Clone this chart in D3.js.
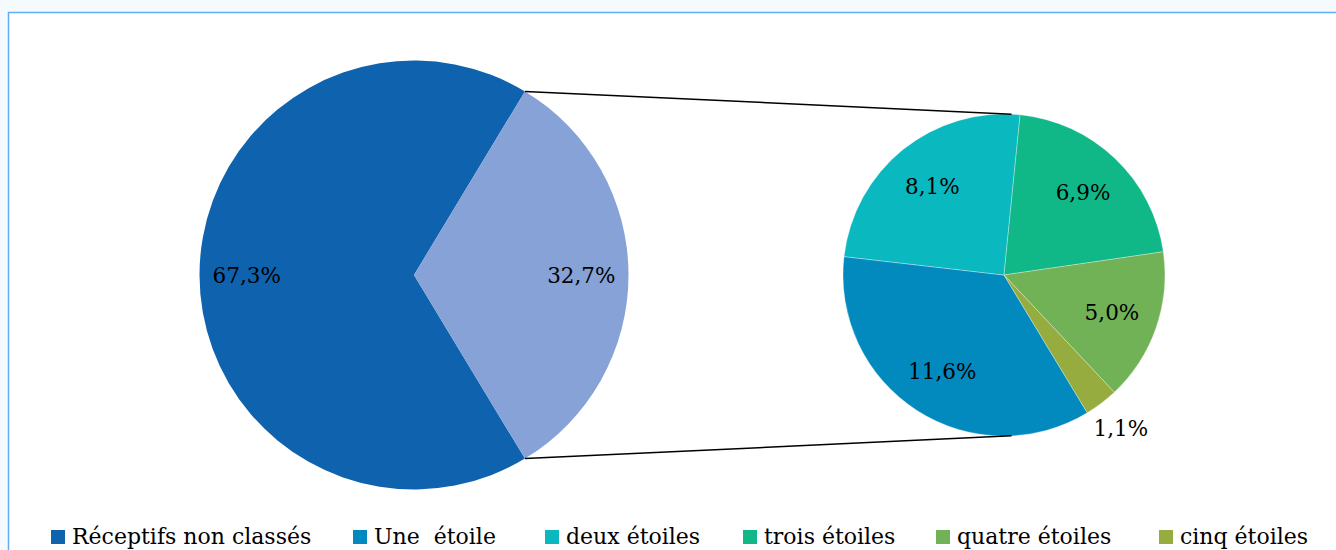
<!DOCTYPE html>
<html>
<head>
<meta charset="utf-8">
<script src="https://cdn.jsdelivr.net/npm/d3@7"></script>
<style>
  html, body { margin: 0; padding: 0; background: #f5faff; }
  svg { display: block; }
  text { font-family: "DejaVu Serif", "Liberation Serif", serif; fill: #000; }
</style>
</head>
<body>
<svg id="chart" width="1336" height="550"></svg>
<script>
// parts du graphique principal (%)
var mainCategories = ["Réceptifs non classés", "Classés"];
var mainValues = [67.3, 32.7];
var mainColors = ["#0e62ae", "#86a2d6"];

// détail des hébergements classés (%)
var subCategories = ["Une  étoile", "deux étoiles", "trois étoiles", "quatre étoiles", "cinq étoiles"];
var subValues = [11.6, 8.1, 6.9, 5.0, 1.1];
var subColors = ["#028abf", "#0ab8c0", "#10b888", "#70b255", "#96ac3e"];

var legendLabels = ["Réceptifs non classés"].concat(subCategories);
var legendColors = [mainColors[0]].concat(subColors);

var width = 1336, height = 550;
var svg = d3.select("#chart");

// cadre
svg.append("rect")
  .attr("x", 8.5).attr("y", 12.5)
  .attr("width", 1400).attr("height", 600)
  .attr("fill", "#fff")
  .attr("stroke", "#5eaef5")
  .attr("stroke-width", 1.5);

var fmt = function(v) { return d3.format(".1f")(v).replace(".", ",") + "%"; };

var mainCx = 414, mainCy = 275, mainR = 214.5;
var subCx = 1004, subCy = 275, subR = 161;

var mainTotal = d3.sum(mainValues);
// la part "classés" est centrée sur l'axe horizontal, côté droit
var startA = Math.PI / 2 + Math.PI * mainValues[1] / mainTotal;

var mainPie = d3.pie().sort(null).startAngle(startA).endAngle(startA + 2 * Math.PI);
var mainArcs = mainPie(mainValues);
var mainArc = d3.arc().innerRadius(0).outerRadius(mainR);
var mainLabelArc = d3.arc().innerRadius(mainR * 0.78).outerRadius(mainR * 0.78);

var gMain = svg.append("g").attr("transform", "translate(" + mainCx + "," + mainCy + ")");
gMain.selectAll("path").data(mainArcs).enter().append("path")
  .attr("d", mainArc)
  .attr("fill", function(d, i) { return mainColors[i]; });

gMain.selectAll("text").data(mainArcs).enter().append("text")
  .attr("transform", function(d) { return "translate(" + mainLabelArc.centroid(d) + ")"; })
  .attr("text-anchor", "middle")
  .attr("dy", "0.35em")
  .style("font-size", "21.5px")
  .text(function(d) { return fmt(d.data); });

// second camembert
var subPie = d3.pie().sort(null).startAngle(startA).endAngle(startA + 2 * Math.PI);
var subArcs = subPie(subValues);
var subArc = d3.arc().innerRadius(0).outerRadius(subR);
var subLabelArc = d3.arc().innerRadius(subR * 0.71).outerRadius(subR * 0.71);
var outLabelArc = d3.arc().innerRadius(subR * 1.2).outerRadius(subR * 1.2);
var subTotal = d3.sum(subValues);

var gSub = svg.append("g").attr("transform", "translate(" + subCx + "," + subCy + ")");
gSub.selectAll("path").data(subArcs).enter().append("path")
  .attr("d", subArc)
  .attr("fill", function(d, i) { return subColors[i]; })
  .attr("stroke", "#fff")
  .attr("stroke-opacity", 0.5)
  .attr("stroke-width", 0.6);

gSub.selectAll("text").data(subArcs).enter().append("text")
  .attr("transform", function(d) {
    var a = d.data / subTotal < 0.05 ? outLabelArc : subLabelArc;
    return "translate(" + a.centroid(d) + ")";
  })
  .attr("text-anchor", "middle")
  .attr("dy", "0.35em")
  .style("font-size", "21.5px")
  .text(function(d) { return fmt(d.data); });

// lignes de liaison : bord de la part "classés" -> tangentes au second cercle
function tangent(px, py, upper) {
  var dx = px - subCx, dy = py - subCy;
  var d = Math.sqrt(dx * dx + dy * dy);
  var phi = Math.atan2(dy, dx);
  var alpha = Math.acos(subR / d);
  var t = upper ? phi + alpha : phi - alpha;
  return [subCx + subR * Math.cos(t), subCy + subR * Math.sin(t)];
}
var edges = [mainArcs[1].startAngle, mainArcs[1].endAngle];
edges.forEach(function(a, i) {
  var px = mainCx + mainR * Math.sin(a), py = mainCy - mainR * Math.cos(a);
  var t = tangent(px, py, i === 0);
  svg.append("line")
    .attr("x1", px).attr("y1", py)
    .attr("x2", t[0]).attr("y2", t[1])
    .attr("stroke", "#000")
    .attr("stroke-width", 1.5);
});

// légende
var legendSquareX = [51, 353, 545, 743, 936, 1159];
var legend = svg.append("g");
legendLabels.forEach(function(lab, i) {
  legend.append("rect")
    .attr("x", legendSquareX[i]).attr("y", 530)
    .attr("width", 14).attr("height", 14)
    .attr("fill", legendColors[i]);
  legend.append("text")
    .attr("x", legendSquareX[i] + 21).attr("y", 544)
    .style("font-size", "22px")
    .style("white-space", "pre")
    .attr("xml:space", "preserve")
    .text(lab);
});
</script>
</body>
</html>
